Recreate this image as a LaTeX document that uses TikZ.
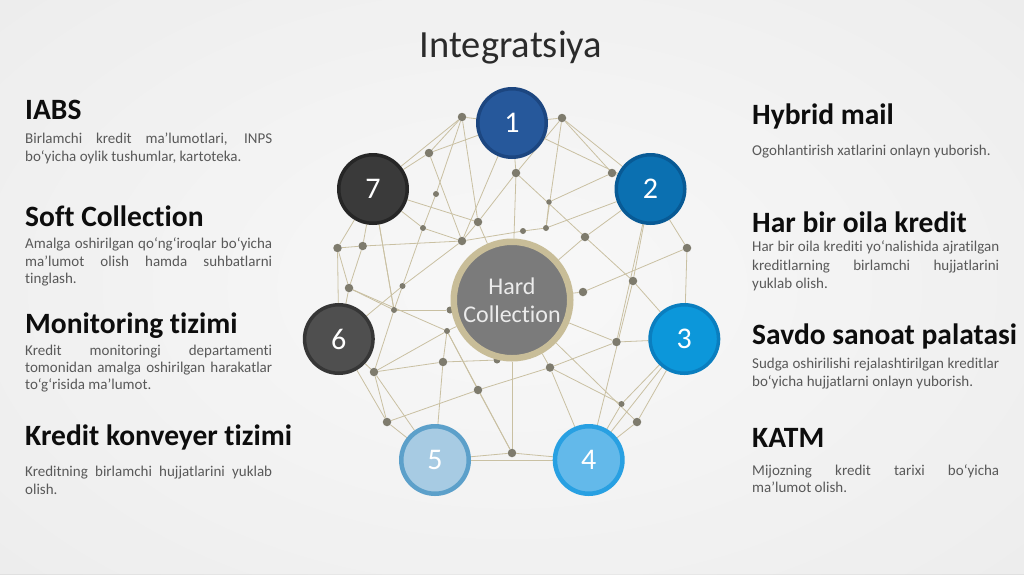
\documentclass[tikz,border=0pt]{standalone}
\usepackage{fontspec}
\setmainfont{Carlito}[RawFeature={-liga}]
\usetikzlibrary{calc}
\definecolor{linec}{HTML}{C9C0A2}
\definecolor{dotc}{HTML}{7E7B6D}
\definecolor{headc}{HTML}{0D0D0D}
\definecolor{bodyc}{HTML}{595959}
\definecolor{titlec}{HTML}{2B2B2B}
\definecolor{hfill}{HTML}{7B7B7B}
\definecolor{hring}{HTML}{C8BD98}
\definecolor{fa}{HTML}{26589B}\definecolor{ba}{HTML}{1C4680}
\definecolor{fb}{HTML}{0B70B1}\definecolor{bb}{HTML}{085A95}
\definecolor{fc}{HTML}{0C97DA}\definecolor{bc}{HTML}{0A7EBF}
\definecolor{fd}{HTML}{63B9EA}\definecolor{bd}{HTML}{28A0E2}
\definecolor{fe}{HTML}{A7CBE3}\definecolor{be}{HTML}{5CA0CA}
\definecolor{ff}{HTML}{4F4F4F}\definecolor{bf}{HTML}{363636}
\definecolor{fg}{HTML}{3A3A3A}\definecolor{bg}{HTML}{262626}
\pgfdeclarelayer{bglayer}
\pgfdeclarelayer{edgelayer}
\pgfsetlayers{bglayer,edgelayer,main}
\newcommand{\jl}[2][247pt]{\makebox[#1][s]{#2}}
\begin{document}
\begin{tikzpicture}[x=1pt,y=-1pt,
  edge/.style={draw=linec, line width=0.8pt},
  dotn/.style={circle, fill=dotc, inner sep=0pt, minimum size=#1},
  dotn/.default=8.5pt,
  numc/.style 2 args={circle, fill=#1, draw=#2, line width=3.5pt, minimum size=68.5pt, inner sep=0pt, text=white, font=\fontsize{30}{30}\selectfont},
  head/.style={anchor=base west, inner sep=0pt, text=headc, font=\fontsize{29.5}{34}\selectfont\bfseries},
  body/.style={anchor=base west, inner sep=0pt, text=bodyc, font=\fontsize{15}{18}\selectfont},
  titlest/.style={anchor=base, inner sep=0pt, text=titlec, font=\fontsize{38.5}{44}\selectfont}
]
\useasboundingbox (0,0) rectangle (1024,574);
\begin{pgfonlayer}{bglayer}
\shade[inner color=white!60!gray!8, outer color=black!12] (-150,-120) rectangle (1174,694);
\fill[black!3, opacity=0.6] (0,0) rectangle (1024,574);
\end{pgfonlayer}

% title
\node[titlest] (title) at (511,57) {Integratsiya};

% dots
\node[dotn] (d1) at (462,117) {};
\node[dotn] (d2) at (562,118) {};
\node[dotn] (d3) at (429,153) {};
\node[dotn] (d4) at (516,173) {};
\node[dotn] (d5) at (612,173) {};
\node[dotn=6pt] (d6) at (436,194) {};
\node[dotn=5.5pt] (d7) at (549,202) {};
\node[dotn] (d8) at (478,222) {};
\node[dotn=6pt] (d9) at (423,228) {};
\node[dotn=6pt] (d10) at (523,231) {};
\node[dotn=6pt] (d11) at (546,228) {};
\node[dotn] (d12) at (585,237) {};
\node[dotn] (d13) at (462,241) {};
\node[dotn] (d14) at (337.5,248) {};
\node[dotn] (d15) at (362.7,246) {};
\node[dotn] (d16) at (687,248) {};
\node[dotn] (d17) at (633,281) {};
\node[dotn] (d18) at (583,292) {};
\node[dotn] (d19) at (349,288) {};
\node[dotn=6pt] (d20) at (402.5,286) {};
\node[dotn=6pt] (d21) at (394,310) {};
\node[dotn=7pt] (d22) at (450,310) {};
\node[dotn=6pt] (d23) at (447,331) {};
\node[dotn] (d24) at (616.5,342) {};
\node[dotn] (d25) at (443,362) {};
\node[dotn=7pt] (d26) at (497,360) {};
\node[dotn] (d27) at (550,367.5) {};
\node[dotn] (d28) at (374,372) {};
\node[dotn] (d29) at (478,390) {};
\node[dotn=6pt] (d30) at (621.5,404) {};
\node[dotn] (d31) at (637,422) {};
\node[dotn] (d32) at (387,422) {};
\node[dotn] (d33) at (512,453) {};

% center
\node[circle, fill=hfill, draw=hring, line width=6.5pt, minimum size=116.5pt, inner sep=0pt,
      text=black!8, align=center, font=\fontsize{24}{28}\selectfont] (h) at (512,300) {Hard\\Collection};

% numbered circles
\node[numc={fa}{ba}] (c1) at (512,123) {1};
\node[numc={fb}{bb}] (c2) at (650.5,189) {2};
\node[numc={fc}{bc}] (c3) at (684.3,339) {3};
\node[numc={fd}{bd}, line width=4.5pt, minimum size=67.5pt] (c4) at (588.7,460) {4};
\node[numc={fe}{be}, line width=4.5pt, minimum size=67.5pt] (c5) at (435,460) {5};
\node[numc={ff}{bf}] (c6) at (338.8,339) {6};
\node[numc={fg}{bg}] (c7) at (373,189) {7};

% edges
\begin{pgfonlayer}{edgelayer}
\foreach \a/\b in {c1/d1, c1/d2, c1/d3, c1/d4, c1/c2, c1/d13,
  d1/c7, d1/d3, d1/d6, d1/d8,
  d3/c7, d3/d13,
  c7/d8, c7/d14, c7/d15, c7/d9, c7/d21,
  d9/d13, d9/d20, d6/d9,
  d13/d20, d13/d15, d14/d15, d13/d10, d10/d11, d11/c2,
  d8/d4, d8/d13, d8/h,
  d14/d19, d15/d19, d14/c6, d19/c6,
  d2/c2, d2/d5, d2/d11, d2/d4,
  d4/d12, d4/h,
  d5/d7, d5/c2, d7/d11,
  d12/c2, d12/d17, d12/h,
  c2/d16, c2/d17, c2/d24,
  d16/d18, d16/c3, d18/h,
  d17/c3, d17/c4,
  d24/c3, d24/h, d24/d27,
  h/d27, d27/c4, d27/d29, d29/d32,
  h/d31,
  d30/c3, d30/c4, d30/d27,
  d31/c3, d31/c4, c3/c4,
  d33/c4, d33/c5, c5/c4, d33/h, d33/d29, d33/d23,
  d19/d21, d21/d22, d19/d23,
  d20/c6, d20/d21, d21/c7,
  d21/d28, d23/d28, d23/d25, d23/d29, d23/h,
  d28/d25, d25/d26,
  d28/c6, d28/d32, d28/c5,
  d32/c5, d25/c5, c6/d32}
  \draw[edge] (\a) -- (\b);
\end{pgfonlayer}

% left texts
\node[head] (hA) at (25,119) {IABS};
\node[body] (tA1) at (25,143) {\jl{Birlamchi kredit ma’lumotlari, INPS}};
\node[body] (tA2) at (25,161) {bo‘yicha oylik tushumlar, kartoteka.};

\node[head] (hB) at (25,226) {Soft Collection};
\node[body] (tB1) at (25,248.3) {\jl{Amalga oshirilgan qo‘ng‘iroqlar bo‘yicha}};
\node[body] (tB2) at (25,266) {\jl{ma’lumot olish hamda suhbatlarni}};
\node[body] (tB3) at (25,283.5) {tinglash.};

\node[head] (hC) at (25,333) {Monitoring tizimi};
\node[body] (tC1) at (25,355) {\jl{Kredit monitoringi departamenti}};
\node[body] (tC2) at (25,372) {\jl{tomonidan amalga oshirilgan harakatlar}};
\node[body] (tC3) at (25,389) {to‘g‘risida ma’lumot.};

\node[head] (hD) at (25,445) {Kredit konveyer tizimi};
\node[body] (tD1) at (25,476.5) {\jl{Kreditning birlamchi hujjatlarini yuklab}};
\node[body] (tD2) at (25,494) {olish.};

% right texts
\node[head] (hE) at (752,124) {Hybrid mail};
\node[body] (tE1) at (752,155) {Ogohlantirish xatlarini onlayn yuborish.};

\node[head] (hF) at (752,232.5) {Har bir oila kredit};
\node[body] (tF1) at (752,251.7) {\jl{Har bir oila krediti yo‘nalishida ajratilgan}};
\node[body] (tF2) at (752,270) {\jl{kreditlarning birlamchi hujjatlarini}};
\node[body] (tF3) at (752,288.3) {yuklab olish.};

\node[head] (hG) at (752,344) {Savdo sanoat palatasi};
\node[body] (tG1) at (752,368.3) {\jl{Sudga oshirilishi rejalashtirilgan kreditlar}};
\node[body] (tG2) at (752,386.7) {bo‘yicha hujjatlarni onlayn yuborish.};

\node[head] (hH) at (752,447) {KATM};
\node[body] (tH1) at (752,475) {\jl{Mijozning kredit tarixi bo‘yicha}};
\node[body] (tH2) at (752,492.7) {ma’lumot olish.};
\end{tikzpicture}
\end{document}
